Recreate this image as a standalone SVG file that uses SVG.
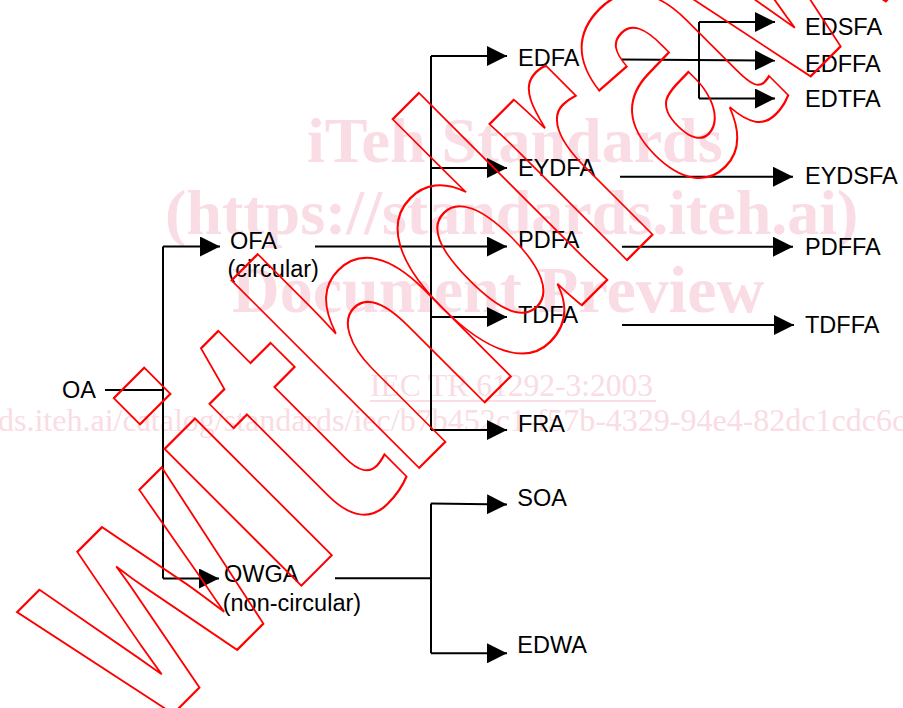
<svg xmlns="http://www.w3.org/2000/svg" width="903" height="708" viewBox="0 0 903 708">
<style>
.lbl{font-family:"Liberation Sans",Arial,sans-serif;font-size:23.5px;fill:#000}
.ln{stroke:#000;stroke-width:2;fill:none}
.wm{font-family:"Liberation Serif","Times New Roman",serif;font-weight:bold;font-size:64px;fill:#f9dce4}
.wm2{font-family:"Liberation Serif","Times New Roman",serif;font-size:31.5px;fill:#f9dce4}
.wd text{font-family:"Liberation Sans",Arial,sans-serif;font-weight:bold;font-size:366px;fill:none;stroke:#ff0000;stroke-width:2;vector-effect:non-scaling-stroke}
</style>
<defs>
<marker id="arr" markerWidth="20" markerHeight="20" refX="20" refY="10" orient="auto" markerUnits="userSpaceOnUse" viewBox="0 0 20 20">
<path d="M0,0 L20,10 L0,20 Z" fill="#000"/>
</marker>
</defs>
<rect width="903" height="708" fill="#fff"/>
<g id="watermark-bg">
<text class="wm" x="307" y="162">iTeh Standards</text>
<text class="wm" x="165" y="234">(https://standards.iteh.ai)</text>
<text class="wm" x="232" y="312" style="font-size:66px">Document Preview</text>
<text class="wm2" x="370" y="396">IEC TR 61292-3:2003</text>
<line x1="370" y1="401" x2="656" y2="401" stroke="#f9dce4" stroke-width="2"/>
<text class="wm2" x="-2" y="431" style="font-size:32px">ds.iteh.ai/catalog/standards/iec/b7b452c1-f57b-4329-94e4-82dc1cdc6c</text>
</g>
<g id="connectors">
<path class="ln" d="M105,390 H163"/>
<path class="ln" d="M163,246.5 V578.5"/>
<path class="ln" d="M163,246.5 H220" marker-end="url(#arr)"/>
<path class="ln" d="M163,578.5 H219" marker-end="url(#arr)"/>
<path class="ln" d="M315,246.5 H507" marker-end="url(#arr)"/>
<path class="ln" d="M431,56 V430"/>
<path class="ln" d="M431,56 H507" marker-end="url(#arr)"/>
<path class="ln" d="M431,168 H507" marker-end="url(#arr)"/>
<path class="ln" d="M431,317 H507" marker-end="url(#arr)"/>
<path class="ln" d="M431,430 H507" marker-end="url(#arr)"/>
<path class="ln" d="M622,59.5 L775,60.5" marker-end="url(#arr)"/>
<path class="ln" d="M699,22 V98.5"/>
<path class="ln" d="M699,22 H775" marker-end="url(#arr)"/>
<path class="ln" d="M699,98.5 H775" marker-end="url(#arr)"/>
<path class="ln" d="M620,176.7 H793" marker-end="url(#arr)"/>
<path class="ln" d="M622,246.7 H793" marker-end="url(#arr)"/>
<path class="ln" d="M622,325 H794" marker-end="url(#arr)"/>
<path class="ln" d="M335,578.3 H431"/>
<path class="ln" d="M431,503.5 V653.3"/>
<path class="ln" d="M431,503.5 L507,504.5" marker-end="url(#arr)"/>
<path class="ln" d="M431,653.3 H507" marker-end="url(#arr)"/>
</g>
<g id="n-OA"><text class="lbl" x="62" y="398">OA</text></g>
<g id="n-OFA"><text class="lbl" x="230" y="248.5">OFA</text><text class="lbl" x="227.5" y="276.5">(circular)</text></g>
<g id="n-OWGA"><text class="lbl" x="224" y="581.7">OWGA</text><text class="lbl" x="222.7" y="611">(non-circular)</text></g>
<g id="n-EDFA"><text class="lbl" x="518" y="65.7">EDFA</text></g>
<g id="n-EYDFA"><text class="lbl" x="518" y="175.7">EYDFA</text></g>
<g id="n-PDFA"><text class="lbl" x="518" y="248.3">PDFA</text></g>
<g id="n-TDFA"><text class="lbl" x="518" y="323.3">TDFA</text></g>
<g id="n-FRA"><text class="lbl" x="518" y="431.7">FRA</text></g>
<g id="n-SOA"><text class="lbl" x="517.3" y="506">SOA</text></g>
<g id="n-EDWA"><text class="lbl" x="517.3" y="652.7">EDWA</text></g>
<g id="n-EDSFA"><text class="lbl" x="805" y="35">EDSFA</text></g>
<g id="n-EDFFA"><text class="lbl" x="805" y="71.7">EDFFA</text></g>
<g id="n-EDTFA"><text class="lbl" x="805" y="107.3">EDTFA</text></g>
<g id="n-EYDSFA"><text class="lbl" x="805" y="184">EYDSFA</text></g>
<g id="n-PDFFA"><text class="lbl" x="805" y="255">PDFFA</text></g>
<g id="n-TDFFA"><text class="lbl" x="805" y="333.3">TDFFA</text></g>
<g id="watermark-withdrawn" class="wd" transform="rotate(-45)">
<text transform="translate(-421,627.2) scale(0.82,1)" style="font-size:265px">W</text>
<text transform="translate(-223,627.2) scale(0.858,1)">i</text>
<text transform="translate(-141,627.2) scale(0.78,1)">t</text>
<text transform="translate(-53.5,627.2) scale(0.74,1)">h</text>
<text transform="translate(84,627.2) scale(0.74,1)">d</text>
<text transform="translate(241,627.2) scale(0.72,1)">r</text>
<text transform="translate(346,627.2) scale(0.70,1)">a</text>
<text transform="translate(480,627.2) scale(0.80,1)">w</text>
<text transform="translate(708,627.2) scale(0.75,1)">n</text>
</g>
</svg>
